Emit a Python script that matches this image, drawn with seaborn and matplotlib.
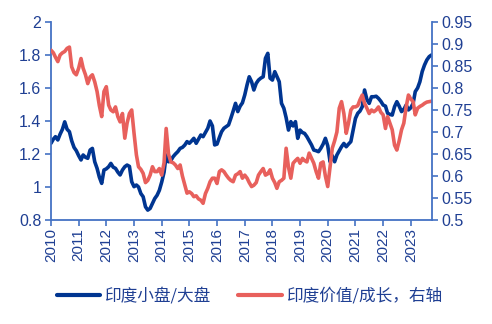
import matplotlib
matplotlib.use("Agg")
import matplotlib.pyplot as plt
import matplotlib.dates as mdates
import seaborn as sns
import pandas as pd
import numpy as np

# ---- data (monthly, Jan 2010 - Oct 2023) ----
start_month = "2010-01-01"
small_large = [
    1.265, 1.29, 1.305, 1.285, 1.32, 1.35, 1.395, 1.35, 1.335, 1.28, 1.24, 1.22,   # 2010
    1.19, 1.164, 1.194, 1.18, 1.174, 1.224, 1.234, 1.153, 1.113, 1.06, 1.022, 1.103,  # 2011
    1.11, 1.123, 1.143, 1.12, 1.113, 1.09, 1.073, 1.103, 1.123, 1.133, 1.125, 1.032,  # 2012
    1.002, 1.012, 1.0, 0.96, 0.941, 0.88, 0.86, 0.87, 0.9, 0.93, 0.95, 0.98,          # 2013
    1.03, 1.09, 1.194, 1.153, 1.16, 1.184, 1.2, 1.214, 1.234, 1.24, 1.254, 1.275,     # 2014
    1.265, 1.28, 1.295, 1.265, 1.29, 1.315, 1.305, 1.33, 1.356, 1.40, 1.37, 1.255,    # 2015
    1.26, 1.30, 1.335, 1.356, 1.366, 1.376, 1.416, 1.46, 1.507, 1.457, 1.49, 1.51,    # 2016
    1.558, 1.62, 1.668, 1.638, 1.588, 1.628, 1.648, 1.66, 1.668, 1.78, 1.81, 1.66,    # 2017
    1.648, 1.699, 1.67, 1.638, 1.507, 1.477, 1.42, 1.345, 1.396, 1.37, 1.396, 1.295,  # 2018
    1.345, 1.33, 1.325, 1.305, 1.28, 1.255, 1.224, 1.22, 1.214, 1.234, 1.26, 1.295,   # 2019
    1.25, 1.153, 1.19, 1.153, 1.194, 1.22, 1.244, 1.264, 1.244, 1.26, 1.275, 1.345,   # 2020
    1.416, 1.447, 1.46, 1.487, 1.588, 1.53, 1.507, 1.547, 1.547, 1.55, 1.537, 1.52,   # 2021
    1.497, 1.49, 1.447, 1.44, 1.436, 1.487, 1.517, 1.49, 1.457, 1.47, 1.497, 1.467,   # 2022
    1.48, 1.507, 1.578, 1.60, 1.638, 1.70, 1.739, 1.77, 1.79, 1.8,                    # 2023
]
value_growth = [
    0.886, 0.88, 0.87, 0.86, 0.875, 0.88, 0.883, 0.89, 0.893, 0.848, 0.835, 0.83,     # 2010
    0.845, 0.867, 0.845, 0.83, 0.81, 0.825, 0.83, 0.814, 0.792, 0.76, 0.735, 0.792,   # 2011
    0.803, 0.761, 0.75, 0.746, 0.757, 0.735, 0.723, 0.742, 0.686, 0.72, 0.742, 0.75,  # 2012
    0.697, 0.648, 0.621, 0.615, 0.606, 0.585, 0.59, 0.602, 0.621, 0.61, 0.61, 0.617,  # 2013
    0.602, 0.63, 0.708, 0.65, 0.632, 0.63, 0.625, 0.617, 0.625, 0.60, 0.58, 0.561,   # 2014
    0.564, 0.56, 0.553, 0.555, 0.548, 0.545, 0.538, 0.56, 0.572, 0.587, 0.595, 0.595, # 2015
    0.583, 0.61, 0.614, 0.61, 0.602, 0.595, 0.59, 0.587, 0.602, 0.605, 0.61, 0.595,   # 2016
    0.602, 0.595, 0.585, 0.576, 0.579, 0.585, 0.602, 0.61, 0.617, 0.602, 0.605, 0.614,# 2017
    0.595, 0.585, 0.572, 0.587, 0.59, 0.595, 0.663, 0.62, 0.595, 0.629, 0.635, 0.64,  # 2018
    0.629, 0.64, 0.635, 0.632, 0.652, 0.64, 0.629, 0.61, 0.595, 0.629, 0.632, 0.60,  # 2019
    0.576, 0.621, 0.663, 0.68, 0.70, 0.754, 0.769, 0.742, 0.697, 0.72, 0.75, 0.757,   # 2020
    0.757, 0.76, 0.773, 0.784, 0.765, 0.754, 0.742, 0.75, 0.746, 0.75, 0.757, 0.745,  # 2021
    0.739, 0.708, 0.735, 0.72, 0.705, 0.67, 0.659, 0.68, 0.705, 0.72, 0.757, 0.784,   # 2022
    0.775, 0.769, 0.739, 0.754, 0.758, 0.761, 0.765, 0.768, 0.769, 0.77,              # 2023
]
label_left = "印度小盘/大盘"
label_right = "印度价值/成长，右轴"
left_ticks = [0.8, 1.0, 1.2, 1.4, 1.6, 1.8, 2.0]
left_ticklabels = ["0.8", "1", "1.2", "1.4", "1.6", "1.8", "2"]
right_ticks = [0.5, 0.55, 0.6, 0.65, 0.7, 0.75, 0.8, 0.85, 0.9, 0.95]
right_ticklabels = ["0.5", "0.55", "0.6", "0.65", "0.7", "0.75", "0.8", "0.85", "0.9", "0.95"]
year_ticks = list(range(2010, 2024))

dates = pd.date_range(start_month, periods=len(small_large), freq="MS")
df = pd.DataFrame({"date": dates, "small_large": small_large, "value_growth": value_growth})

# ---- style ----
sns.set_style("white")
plt.rcParams["font.family"] = ["Liberation Sans", "Noto Sans CJK SC", "DejaVu Sans"]

BLUE = "#003591"
RED = "#E8605C"
AXC = "#4472C4"
TXC = "#1F3F93"

fig = plt.figure(figsize=(4.92, 3.24), dpi=100)
ax = fig.add_axes([51 / 492, 1 - 220 / 324, (432 - 51) / 492, (220 - 22) / 324])
ax2 = ax.twinx()

sns.lineplot(data=df, x="date", y="small_large", ax=ax, color=BLUE, linewidth=2.6,
             label=label_left, legend=False)
sns.lineplot(data=df, x="date", y="value_growth", ax=ax2, color=RED, linewidth=2.6,
             label=label_right, legend=False)

ax.set_xlim(pd.Timestamp("2010-01-01"), pd.Timestamp("2023-10-08"))
ax.set_ylim(0.8, 2.0)
ax2.set_ylim(0.5, 0.95)
ax.set_yticks(left_ticks)
ax.set_yticklabels(left_ticklabels)
ax2.set_yticks(right_ticks)
ax2.set_yticklabels(right_ticklabels)
ax.set_xticks([pd.Timestamp(f"{y}-01-01") for y in year_ticks])
ax.set_xticklabels([str(y) for y in year_ticks], rotation=90)
ax.set_xlabel("")
ax.set_ylabel("")
ax2.set_ylabel("")

for a in (ax, ax2):
    for side in ("top",):
        a.spines[side].set_visible(False)
    for side in ("left", "right", "bottom"):
        a.spines[side].set_color(AXC)
        a.spines[side].set_linewidth(1.3)
    a.grid(False)
ax.spines["right"].set_visible(False)
ax2.spines["left"].set_visible(False)
ax2.spines["bottom"].set_visible(False)

ax.tick_params(axis="both", which="both", direction="out", length=4, width=1.2,
               color=AXC, labelcolor=TXC, labelsize=11.5, pad=3)
ax.tick_params(axis="x", labelsize=11, pad=2)
ax.tick_params(axis="y", left=True)
ax.tick_params(axis="x", bottom=True)
ax2.tick_params(axis="y", direction="out", length=4, width=1.2, color=AXC,
                labelcolor=TXC, labelsize=11.5, right=True, pad=3)

h1, l1 = ax.get_legend_handles_labels()
h2, l2 = ax2.get_legend_handles_labels()
leg = fig.legend(h1 + h2, l1 + l2, loc="center", bbox_to_anchor=(250 / 492, 1 - 296 / 324),
                 ncol=2, frameon=False, handlelength=2.6, handletextpad=0.3,
                 columnspacing=1.6, prop={"family": ["Noto Sans CJK SC", "DejaVu Sans"], "size": 12})
for t in leg.get_texts():
    t.set_color(TXC)
for line in leg.get_lines():
    line.set_linewidth(3)

fig.savefig("out.png", dpi=100)
